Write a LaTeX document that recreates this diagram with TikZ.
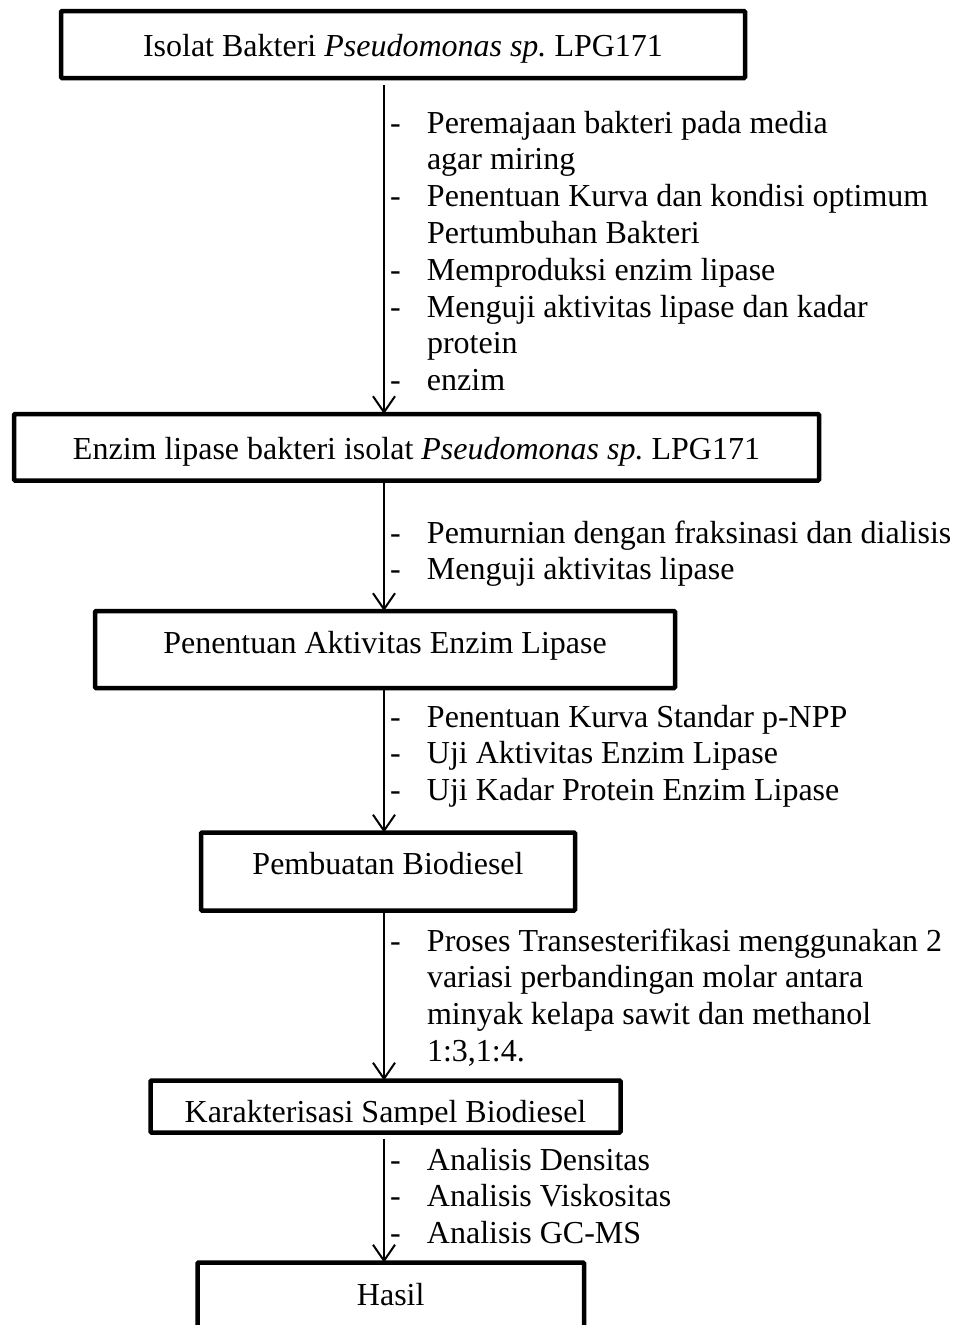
\documentclass[tikz,border=0pt]{standalone}
\usepackage{fontspec}
\setmainfont{Liberation Serif}
\usetikzlibrary{arrows.meta}
\frenchspacing
\begin{document}
\begin{tikzpicture}[x=1pt,y=-1pt,
  every node/.style={font=\fontsize{32}{36.8}\selectfont, inner sep=0pt, outer sep=0pt},
  box/.style={draw, line width=4.5pt, rounded corners=1pt, anchor=north west, inner sep=0pt, minimum height=0pt},
  arr/.style={line width=2pt, -{Straight Barb[length=16pt,width=22pt,line width=2pt]}},
  steps/.style={anchor=base west, align=left}]
\useasboundingbox (0,0) rectangle (959,1325);
\coordinate (ax) at (384,0);
% boxes
\node[box, minimum width=684pt, text height=45pt, text depth=22pt] (b1) at (61,11)
  {Isolat Bakteri \textit{Pseudomonas sp.}\ LPG171};
\node[box, minimum width=805pt, text height=45pt, text depth=21.5pt] (b2) at (14,414)
  {Enzim lipase bakteri isolat \textit{Pseudomonas sp.}\ LPG171};
\node[box, minimum width=580pt, text height=42pt, text depth=35pt] (b3) at (95,611)
  {Penentuan Aktivitas Enzim Lipase};
\node[box, minimum width=374pt, text height=41.5pt, text depth=36.5pt] (b4) at (201,832.5)
  {Pembuatan Biodiesel};
\begin{scope}
  \clip (150,1080) rectangle (621,1124);
  \node[anchor=base] (t5) at (385.5,1122) {Karakterisasi Sampel Biodiesel};
\end{scope}
\node[box, minimum width=470pt, minimum height=52pt] (b5) at (150.5,1080.5) {};
\node[box, minimum width=386.5pt, text height=42.5pt, text depth=60pt] (b6) at (197.5,1262.5)
  {Hasil};
% arrows
\draw[arr] ([yshift=-7pt]b1.south -| ax) -- (b2.north -| ax);
\draw[arr] (b2.south -| ax) -- (b3.north -| ax);
\draw[arr] (b3.south -| ax) -- (b4.north -| ax);
\draw[arr] (b4.south -| ax) -- (b5.north -| ax);
\draw[arr] ([yshift=-6pt]b5.south -| ax) -- (b6.north -| ax);
% step lists
\node[steps] (s1) at (390,133) {\begin{tabular}[t]{@{}p{37pt}@{}l@{}}
-&Peremajaan bakteri pada media\\
 &agar miring\\
-&Penentuan Kurva dan kondisi optimum\\
 &Pertumbuhan Bakteri\\
-&Memproduksi enzim lipase\\
-&Menguji aktivitas lipase dan kadar\\
 &protein\\
-&enzim
\end{tabular}};
\node[steps] (s2) at (390,543) {\begin{tabular}[t]{@{}p{37pt}@{}l@{}}
-&Pemurnian dengan fraksinasi dan dialisis\\
-&Menguji aktivitas lipase
\end{tabular}};
\node[steps] (s3) at (390,727) {\begin{tabular}[t]{@{}p{37pt}@{}l@{}}
-&Penentuan Kurva Standar p-NPP\\
-&Uji Aktivitas Enzim Lipase\\
-&Uji Kadar Protein Enzim Lipase
\end{tabular}};
\node[steps] (s4) at (390,951) {\begin{tabular}[t]{@{}p{37pt}@{}l@{}}
-&Proses Transesterifikasi menggunakan 2\\
 &variasi perbandingan molar antara\\
 &minyak kelapa sawit dan methanol\\
 &1:3,1:4.
\end{tabular}};
\node[steps] (s5) at (390,1170) {\begin{tabular}[t]{@{}p{37pt}@{}l@{}}
-&Analisis Densitas\\
-&Analisis Viskositas\\
-&Analisis GC-MS
\end{tabular}};
\end{tikzpicture}
\end{document}
